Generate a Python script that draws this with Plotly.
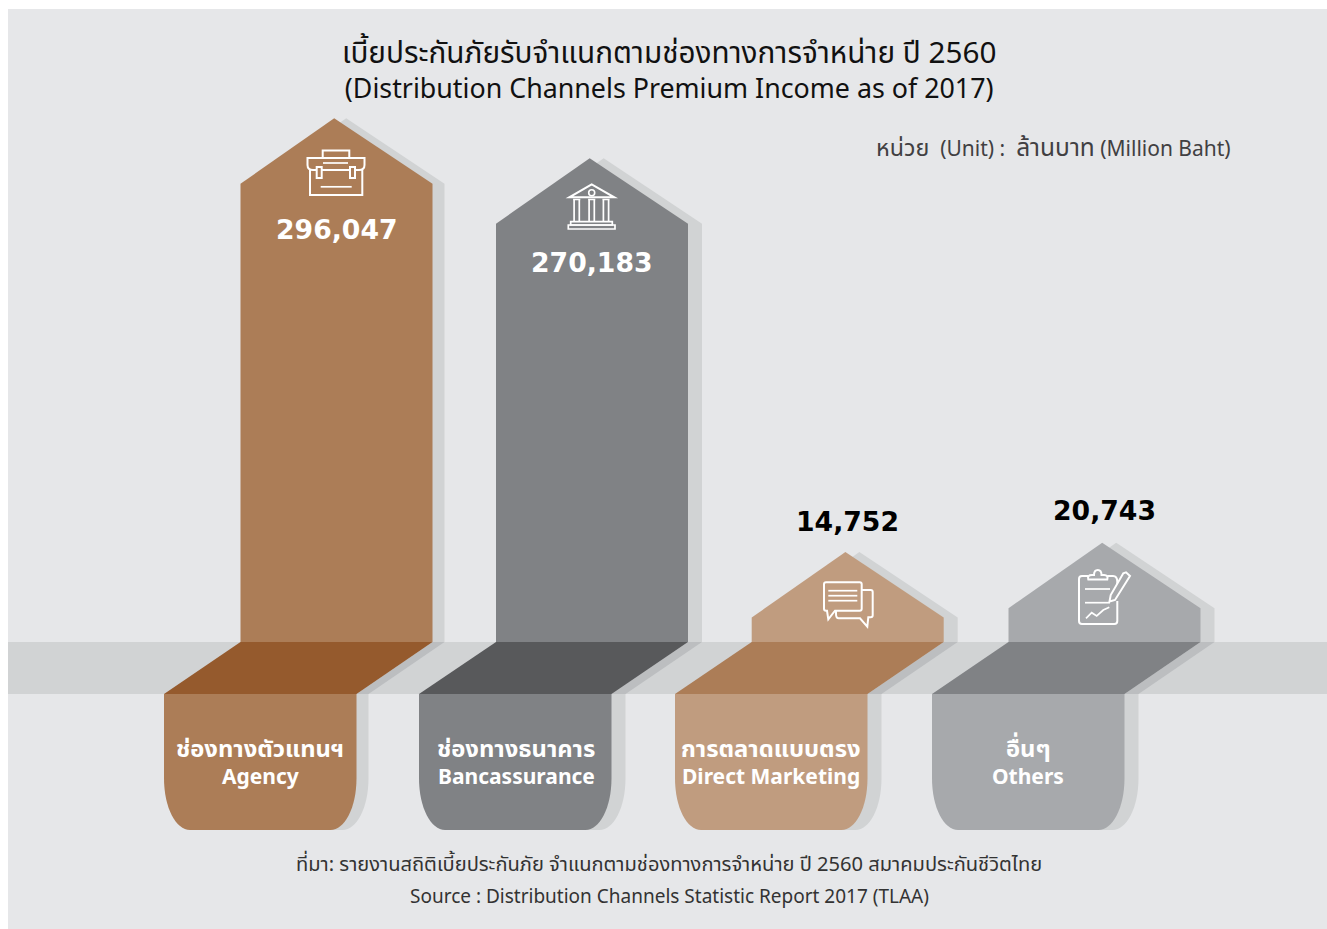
import plotly.graph_objects as go

# ---- data ----
categories_th = ["ช่องทางตัวแทนฯ", "ช่องทางธนาคาร", "การตลาดแบบตรง", "อื่นๆ"]
categories_en = ["Agency", "Bancassurance", "Direct Marketing", "Others"]
premium = [296047, 270183, 14752, 20743]
title_lines = ["เบี้ยประกันภัยรับจำแนกตามช่องทางการจำหน่าย ปี 2560",
               "(Distribution Channels Premium Income as of 2017)"]
unit_parts = ["หน่วย", "(Unit) :", "ล้านบาท", "(Million Baht)"]
source_lines = ["ที่มา: รายงานสถิติเบี้ยประกันภัย จำแนกตามช่องทางการจำหน่าย ปี 2560 สมาคมประกันชีวิตไทย",
                "Source : Distribution Channels Statistic Report 2017 (TLAA)"]

# ---- layout constants ----
W, H = 1327, 929
bar_left = [240.5, 496, 751.7, 1008.5]
tab_left = [164, 419, 675, 932]
shadow_dx = [12, 14, 14, 14]
apex_dx = 93.7
bar_w = 192
band_top, band_bot, tab_bot = 642, 694, 830
body_col = ["#AC7D57", "#808285", "#C09C7F", "#A7A9AC"]
fold_col = ["#955A2D", "#58595B", "#AC7D57", "#808285"]
PANEL, BAND, SHADOW, FOLD_SHADOW = "#E6E7E9", "#D1D3D4", "#D1D3D4", "#BCBEC0"
FONT = "Noto Sans, Noto Sans Thai, sans-serif"
NUM_FONT = "DejaVu Sans"
TXT = "#111111"

# value axis: linear, calibrated so the roof apex sits at the value
scale = (552 - 118.3) / (296047 - 14752)  # px per unit
base_val = 296047 - (band_top - 118.3) / scale
roof = 65.5 / scale
y_range = [base_val - (H - band_top) / scale, base_val + band_top / scale]


def house(left, value, dx=0):
    xs = [left + dx, left + dx, left + apex_dx + dx, left + bar_w + dx, left + bar_w + dx, left + dx]
    ys = [base_val, value - roof, value, value - roof, base_val, base_val]
    return xs, ys


fig = go.Figure()
for i, v in enumerate(premium):
    xs, ys = house(bar_left[i], v, shadow_dx[i])
    fig.add_trace(go.Scatter(x=xs, y=ys, mode="lines", fill="toself", fillcolor=SHADOW,
                             line=dict(width=0), hoverinfo="skip", showlegend=False))
for i, v in enumerate(premium):
    xs, ys = house(bar_left[i], v)
    fig.add_trace(go.Scatter(x=xs, y=ys, mode="lines", fill="toself", fillcolor=body_col[i],
                             line=dict(width=0), name=categories_en[i], hoverinfo="skip", showlegend=False))
# keeps the pixel-unit helper axis alive
fig.add_trace(go.Scatter(x=[0], y=[0], yaxis="y2", mode="none", hoverinfo="skip", showlegend=False))

shapes = []


def add_path(path, fill=None, line=None, lw=0, layer="above"):
    shapes.append(dict(type="path", path=path, xref="x", yref="y2", layer=layer,
                       fillcolor=fill if fill else "rgba(0,0,0,0)",
                       line=dict(color=line if line else "rgba(0,0,0,0)", width=lw)))


def rect(x0, y0, x1, y1, fill, layer="below", ref="y2"):
    shapes.append(dict(type="rect", x0=x0, y0=y0, x1=x1, y1=y1, xref="x", yref=ref, layer=layer,
                       fillcolor=fill, line=dict(width=0)))


def tab_path(l, w=192.5):
    r = l + w
    return (f"M{l},{band_bot} L{r},{band_bot} L{r},778 C{r},808 {r-12},{tab_bot} {r-26},{tab_bot} "
            f"L{l+26},{tab_bot} C{l+12},{tab_bot} {l},808 {l},778 Z")


rect(8, 9, W, H, PANEL)
rect(8, band_top, W, band_bot, BAND)
for i in range(4):
    l, t, d = bar_left[i], tab_left[i], shadow_dx[i]
    add_path(tab_path(t + d), fill=SHADOW, layer="below")
    add_path(f"M{l+bar_w},{band_top} L{l+bar_w+d},{band_top} L{t+192.5+d},{band_bot} L{t+192.5},{band_bot} Z",
             fill=FOLD_SHADOW, layer="below")
    add_path(tab_path(t), fill=body_col[i], layer="below")
    add_path(f"M{l},{band_top} L{l+bar_w},{band_top} L{t+192.5},{band_bot} L{t},{band_bot} Z",
             fill=fold_col[i], layer="below")

WL = dict(line="#FFFFFF", lw=2)
THIN = dict(line="#FFFFFF", lw=1.7)
# briefcase
add_path("M322.7,158 L322.7,150.5 L349.3,150.5 L349.3,158", **WL)
add_path("M307.5,158 L364.5,158 L364.5,165 Q364.5,170 359,170 L313,170 Q307.5,170 307.5,165 Z", **WL)
add_path("M310,170 L310,195 L362.3,195 L362.3,170", **WL)
add_path("M323,163 L348,163", **THIN)
add_path("M320.7,186.8 L351.7,186.8", **THIN)
add_path("M316.7,167 L321.7,167 L321.7,178 L316.7,178 Z", fill=body_col[0], **WL)
add_path("M350,167 L355,167 L355,178 L350,178 Z", fill=body_col[0], **WL)
# bank
add_path("M591.7,184.3 L569.3,197.3 L614.3,197.3 Z", **WL)
shapes.append(dict(type="circle", x0=588.7, x1=594.7, y0=189.7, y1=195.7, xref="x", yref="y2", layer="above",
                   line=dict(color="#FFFFFF", width=1.6), fillcolor="rgba(0,0,0,0)"))
for cx in (576.7, 591.7, 606):
    add_path(f"M{cx-2.6},199.5 L{cx-2.6},221.5 M{cx+2.6},199.5 L{cx+2.6},221.5 M{cx-3.6},199.5 L{cx+3.6},199.5",
             **THIN)
add_path("M570.7,221.7 L612.3,221.7 L612.3,225 L570.7,225 Z", **THIN)
add_path("M568.3,225 L615,225 L615,229 L568.3,229 Z", **THIN)
# speech bubbles
add_path("M826,582.3 L859.7,582.3 Q861.7,582.3 861.7,584.3 L861.7,608.7 Q861.7,610.7 859.7,610.7 L835,610.7 "
         "L828.3,619.3 L827,610.7 L826,610.7 Q824,610.7 824,608.7 L824,584.3 Q824,582.3 826,582.3 Z", **WL)
for yy in (590.7, 595.7, 600.7):
    add_path(f"M828.3,{yy} L857.3,{yy}", **THIN)
add_path("M861.7,590 L870.7,590 Q872.7,590 872.7,592 L872.7,615.3 Q872.7,617.3 870.7,617.3 L868.3,617.3 "
         "L867.3,626.7 L860,618.3 L838.7,618.3 Q836,618.3 836,614 L836,611", **WL)
# clipboard
add_path("M1088.3,576 L1082,576 Q1079,576 1079,579 L1079,621 Q1079,624 1082,624 L1114.3,624 Q1117.3,624 1117.3,621 L1117.3,601", **WL)
add_path("M1107.3,576 L1113,576 Q1117.3,576 1117.3,582 L1117.3,585", **WL)
add_path("M1088.3,579.5 Q1087,575 1092,575 L1094,575 Q1094,570 1097.8,570 Q1101.5,570 1101.5,575 L1104,575 Q1108.5,575 1107.3,579.5 Z", **WL)
add_path("M1085,589 L1110,589", **THIN)
add_path("M1085,602.7 L1110,602.7", **THIN)
add_path("M1086,618.3 L1091.7,612.7 L1096.7,616 L1103.3,610 L1109.3,607.3", **THIN)
add_path("M1109.5,601.5 L1110.7,595 L1123.3,573.3 L1126,572.3 L1130,576 L1115,600 Z", fill=body_col[3], **WL)

annotations = []


def txt(x, y, s, size, color, font=FONT, anchor="center", bold=False):
    if bold:
        s = f"<b>{s}</b>"
    annotations.append(dict(x=x, y=y, xref="x", yref="y2", text=s, showarrow=False, xanchor=anchor,
                            yanchor="middle", font=dict(family=font, size=size, color=color)))


title_text = f'<span style="font-size:29.7px">{title_lines[0]}</span><br>{title_lines[1]}'
txt(669, 68.5, title_text, 26.8, TXT)
unit_text = (f'<span style="font-size:23.3px">{unit_parts[0]}</span>\u00a0 {unit_parts[1]}\u00a0 '
             f'<span style="font-size:24.5px">{unit_parts[2]}</span> {unit_parts[3]}')
txt(1232.5, 146.5, unit_text, 21, "#414042", anchor="right")
txt(669, 863, source_lines[0], 20.1, "#333333")
txt(669, 896, source_lines[1], 19, "#333333")

label_x = [336.5, 592, 847.5, 1104.5]
label_y = [229, 262, 521, 510]
label_col = ["#FFFFFF", "#FFFFFF", "#000000", "#000000"]
for i, v in enumerate(premium):
    txt(label_x[i], label_y[i], f"{v:,}", 26.7, label_col[i], font=NUM_FONT, bold=True)
tab_cx = [260, 516, 770.5, 1028]
for i in range(4):
    txt(tab_cx[i], 747.5, categories_th[i], 23.8, "#FFFFFF", bold=True)
    txt(tab_cx[i], 776, categories_en[i], 21, "#FFFFFF", bold=True)

fig.update_layout(
    width=W, height=H, margin=dict(l=0, r=0, t=0, b=0), autosize=False,
    paper_bgcolor="#FFFFFF", plot_bgcolor="#FFFFFF", showlegend=False, hovermode=False,
    xaxis=dict(range=[0, W], visible=False, fixedrange=True),
    yaxis=dict(range=y_range, visible=False, fixedrange=True),
    yaxis2=dict(range=[H, 0], visible=False, overlaying="y", fixedrange=True),
    shapes=shapes, annotations=annotations,
)
fig.write_html("out.html", config={"displayModeBar": False},
               post_script="document.body.style.margin='0';document.body.style.overflow='hidden';")
